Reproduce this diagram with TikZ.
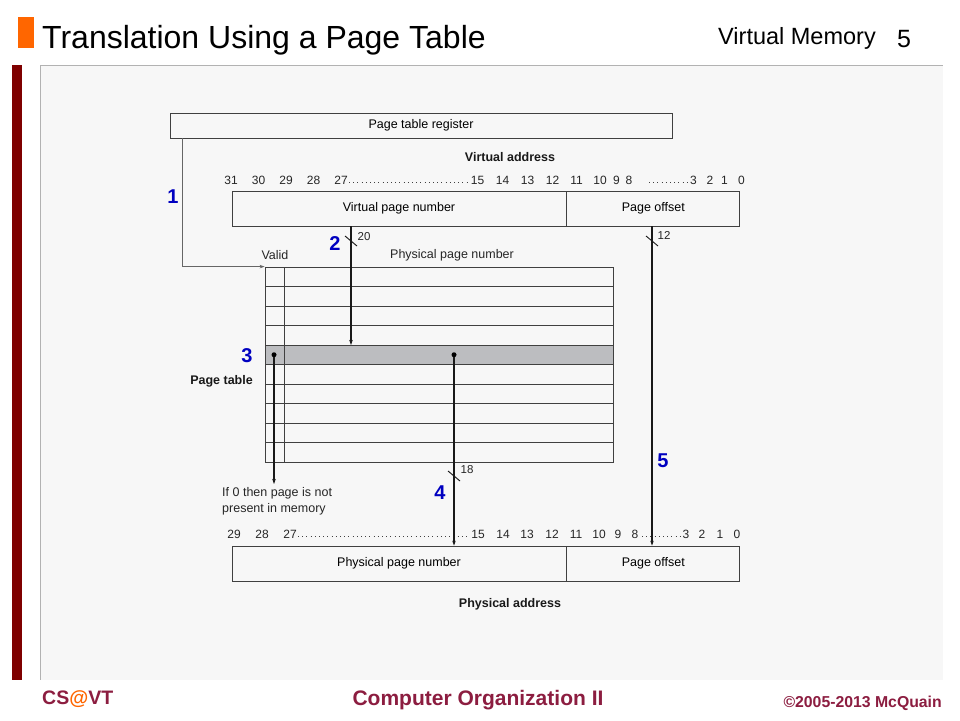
\documentclass[tikz,border=0pt]{standalone}
\usepackage{fontspec}
\setmainfont{Liberation Sans}
\usepackage{xcolor}
\usetikzlibrary{arrows.meta,positioning}
\definecolor{vtorange}{HTML}{FF6600}
\definecolor{vtbar}{HTML}{7F0000}
\definecolor{vtmaroon}{HTML}{8C1D40}
\definecolor{stepblue}{HTML}{0000C0}
\definecolor{panelgray}{HTML}{F7F7F7}
\definecolor{rowgray}{HTML}{BCBDC0}

\begin{document}
\begin{tikzpicture}[x=1pt, y=-1pt,
  field/.style={draw=black!75, line width=0.8pt, rectangle, inner sep=0pt, minimum height=35pt, font=\fontsize{12.5}{14}\selectfont},
  lbl/.style={inner sep=0pt, text=black!85, font=\fontsize{12.5}{14}\selectfont},
  head/.style={inner sep=0pt, text=black!90, font=\fontsize{12.5}{14}\selectfont\bfseries},
  bit/.style={inner sep=0pt, text=black!85, font=\fontsize{12}{13}\selectfont},
  width/.style={inner sep=0pt, text=black!85, font=\fontsize{11.5}{12}\selectfont},
  stepnum/.style={inner sep=0pt, text=stepblue, font=\fontsize{20}{22}\selectfont\bfseries},
  dot/.style={circle, fill=black, inner sep=0pt, minimum size=5pt},
  sig/.style={-{Stealth[length=5pt,width=3.5pt]}, line width=1.5pt, black!90},
  reg/.style={-{Stealth[length=5pt,width=3.5pt]}, line width=1.4pt, black!60},
  tick/.style={line width=0.9pt, black!90},
  dots/.style={line width=1pt, dash pattern=on 1pt off 3.2pt, black!75}
]
\useasboundingbox (0,0) rectangle (960,720);
\fill[white] (0,0) rectangle (960,720);

% slide frame
\fill[panelgray] (40,65) rectangle (943,680);
\draw[black!30, line width=0.8pt] (40,65) -- (943,65);
\draw[black!30, line width=0.8pt] (40,65) -- (40,680);
\fill[vtbar] (12,65) rectangle (22,680);
\fill[vtorange] (18,17) rectangle (34,48);
\node[inner sep=0pt, anchor=base west, font=\fontsize{32}{34}\selectfont] (title) at (42,48) {Translation Using a Page Table};
\node[inner sep=0pt, anchor=base west, font=\fontsize{23.5}{25}\selectfont] (topic) at (718,44) {Virtual Memory};
\node[inner sep=0pt, anchor=base west, font=\fontsize{25}{26}\selectfont] (slideno) at (897,47) {5};
\node[inner sep=0pt, anchor=west, text=vtmaroon, font=\fontsize{19.5}{21}\selectfont\bfseries] (csvt) at (42,699) {CS\textcolor{vtorange}{@}VT};
\node[inner sep=0pt, text=vtmaroon, font=\fontsize{21}{23}\selectfont\bfseries] (course) at (478,700) {Computer Organization II};
\node[inner sep=0pt, anchor=east, text=vtmaroon, font=\fontsize{15.8}{17}\selectfont\bfseries] (copy) at (942,703) {\textcopyright2005-2013 McQuain};

% registers and addresses
\node[field, minimum width=502pt, minimum height=25pt] (ptr) at (421,125.5) {Page table register};
\node[head] (vaddr) at (510,157) {Virtual address};
\node[field, minimum width=334pt] (vpn) at (399,208.5) {Virtual page number};
\node[field, minimum width=173pt, anchor=west] (voff) at (vpn.east) {Page offset};
\node[field, minimum width=334pt] (ppn) at (399,563.5) {Physical page number};
\node[field, minimum width=173pt, anchor=west] (poff) at (ppn.east) {Page offset};
\node[head] (paddr) at (510,604) {Physical address};

\foreach \b/\x in {31/231,30/258.5,29/286,28/313.5,27/341,15/477.5,14/502.5,13/527.5,12/552.5,11/576.5,10/600,9/616.5,8/629,3/693.5,2/710,1/724.5,0/741.5}
  \node[bit] (vb\b) at (\x,180) {\b};
\draw[dots] (349,182) -- (467,182);
\draw[dots] (649,182) -- (688,182);
\foreach \b/\x in {29/234,28/262,27/290,15/478,14/503,13/527,12/552,11/576,10/599,9/618,8/635,3/686,2/702,1/720,0/737}
  \node[bit] (pb\b) at (\x,534.5) {\b};
\draw[dots] (298,536.5) -- (469,536.5);
\draw[dots] (642,536.5) -- (681,536.5);

% page table
\node[lbl] (valid) at (275,255) {Valid};
\node[lbl] (ppnhead) at (452,255) {Physical page number};
\node[rectangle, fill=rowgray, inner sep=0pt, minimum width=348pt, minimum height=19.5pt] (pte) at (439,354.75) {};
\node[draw=black!75, line width=0.8pt, rectangle, inner sep=0pt, minimum width=348pt, minimum height=195pt] (ptab) at (439,364.5) {};
\foreach \r in {1,...,9}
  \draw[black!75, line width=0.8pt] (265,{267+19.5*\r}) -- (613,{267+19.5*\r});
\draw[black!75, line width=0.8pt] (284.5,267) -- (284.5,462);
\node[head, anchor=east] (ptname) at (253,381) {Page table};
\node[dot] (vbit) at (274,354.75) {};
\node[dot] (ppnbit) at (454,354.75) {};
\node[lbl, align=left, anchor=west, font=\fontsize{12.5}{16}\selectfont] (nomsg) at (222,501) {If 0 then page is not\\present in memory};

% connectors
\coordinate (regout) at (182.5,138);
\coordinate (idx) at (351,345);
\coordinate (nomem) at (274,484);
\coordinate (offx) at (652,0);
\draw[reg] (regout) |- (ptab.north west);
\draw[sig] (vpn.south -| idx) -- (idx);
\draw[sig] (vbit) -- (nomem);
\draw[sig] (ppnbit) -- (ppnbit |- ppn.north);
\draw[sig] (voff.south -| offx) -- (poff.north -| offx);
\draw[tick] (345,236) -- (357,246);
\draw[tick] (646,236) -- (658,246);
\draw[tick] (448,471) -- (460,481);
\node[width] (w20) at (364,237) {20};
\node[width] (w12) at (664,235) {12};
\node[width] (w18) at (467,470) {18};

% steps
\node[stepnum] (s1) at (173,197) {1};
\node[stepnum] (s2) at (335,244) {2};
\node[stepnum] (s3) at (247,356) {3};
\node[stepnum] (s4) at (440,493) {4};
\node[stepnum] (s5) at (663,461) {5};
\end{tikzpicture}
\end{document}
